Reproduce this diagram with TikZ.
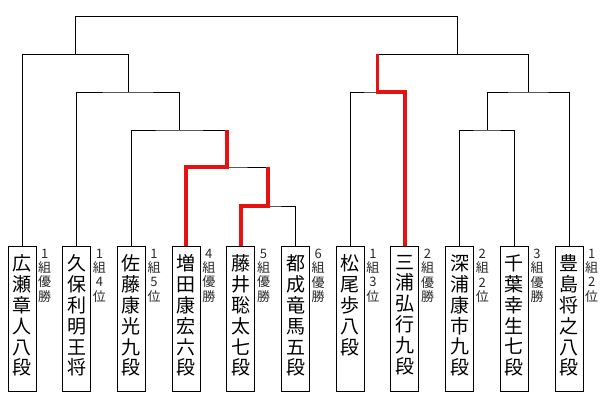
\documentclass[tikz,border=0pt]{standalone}
\usepackage{fontspec}
\setmainfont{Noto Sans CJK JP}
\usetikzlibrary{positioning}
\definecolor{winred}{RGB}{230,18,18}
\definecolor{rankgray}{RGB}{40,40,40}

\newcommand{\tate}[1]{\parbox[c][137pt][t]{26pt}{\centering\fontsize{19pt}{20.8pt}\selectfont\vspace*{5pt}#1}}
\newcommand{\kumi}[1]{\parbox[t]{14pt}{\centering\fontsize{13pt}{14.2pt}\selectfont #1}}

\begin{document}
\begin{tikzpicture}[
    x=1pt, y=1pt,
    node distance=26.7pt,
    player/.style={rectangle, draw=black, line width=1pt, fill=white,
                   minimum width=28pt, minimum height=145pt,
                   inner sep=0pt, outer sep=0pt},
    rank/.style={inner sep=0pt, text=rankgray},
    link/.style={line width=1pt, black},
    win/.style={line width=3.4pt, winred},
]
\useasboundingbox (0,0) rectangle (600,400);

% players
\node[player] (p1) at (22,81.5) {\tate{広\\瀬\\章\\人\\八\\段}};
\node[player, right=of p1] (p2) {\tate{久\\保\\利\\明\\王\\将}};
\node[player, right=of p2] (p3) {\tate{佐\\藤\\康\\光\\九\\段}};
\node[player, right=of p3] (p4) {\tate{増\\田\\康\\宏\\六\\段}};
\node[player, right=of p4] (p5) {\tate{藤\\井\\聡\\太\\七\\段}};
\node[player, right=of p5] (p6) {\tate{都\\成\\竜\\馬\\五\\段}};
\node[player, right=of p6] (p7) {\tate{松\\尾\\歩\\八\\段}};
\node[player, right=of p7] (p8) {\tate{三\\浦\\弘\\行\\九\\段}};
\node[player, right=of p8] (p9) {\tate{深\\浦\\康\\市\\九\\段}};
\node[player, right=of p9] (p10) {\tate{千\\葉\\幸\\生\\七\\段}};
\node[player, right=of p10] (p11) {\tate{豊\\島\\将\\之\\八\\段}};

% group results
\node[rank, below right=3pt and 1.5pt of p1.north east] (r1) {\kumi{1\\組\\優\\勝}};
\node[rank, below right=3pt and 1.5pt of p2.north east] (r2) {\kumi{1\\組\\4\\位}};
\node[rank, below right=3pt and 1.5pt of p3.north east] (r3) {\kumi{1\\組\\5\\位}};
\node[rank, below right=3pt and 1.5pt of p4.north east] (r4) {\kumi{4\\組\\優\\勝}};
\node[rank, below right=3pt and 1.5pt of p5.north east] (r5) {\kumi{5\\組\\優\\勝}};
\node[rank, below right=3pt and 1.5pt of p6.north east] (r6) {\kumi{6\\組\\優\\勝}};
\node[rank, below right=3pt and 1.5pt of p7.north east] (r7) {\kumi{1\\組\\3\\位}};
\node[rank, below right=3pt and 1.5pt of p8.north east] (r8) {\kumi{2\\組\\優\\勝}};
\node[rank, below right=3pt and 1.5pt of p9.north east] (r9) {\kumi{2\\組\\2\\位}};
\node[rank, below right=3pt and 1.5pt of p10.north east] (r10) {\kumi{3\\組\\優\\勝}};
\node[rank, below right=3pt and 1.5pt of p11.north east] (r11) {\kumi{1\\組\\2\\位}};

% bracket joints
\coordinate (m56) at (268,194);
\coordinate (m46) at (227,233);
\coordinate (m36) at (179.5,270);
\coordinate (m26) at (128,308);
\coordinate (m16) at (75.5,345.7);
\coordinate (m78) at (377.6,308);
\coordinate (m910) at (487,270);
\coordinate (m911) at (528,308);
\coordinate (m711) at (457.3,345.7);
\coordinate (top) at (266,383.3);

\draw[link] (p5.north) |- (m56) -| (p6.north);
\draw[link] (p4.north) |- (m46) -| (m56);
\draw[link] (p3.north) |- (m36) -| (m46);
\draw[link] (p2.north) |- (m26) -| (m36);
\draw[link] (p1.north) |- (m16) -| (m26);
\draw[link] (p9.north) |- (m910) -| (p10.north);
\draw[link] (m910) |- (m911) -| (p11.north);
\draw[link] (p7.north) |- (m78) -| (p8.north);
\draw[link] (m78) |- (m711) -| (m911);
\draw[link] (m16) |- (top) -| (m711);

% winners so far
\draw[win] (p5.north) |- (m56) -- (m56 |- m46);
\draw[win] (p4.north) |- (m46) -- (m46 |- m36);
\draw[win] (p8.north) |- (m78) -- (m78 |- m711);

\end{tikzpicture}
\end{document}
